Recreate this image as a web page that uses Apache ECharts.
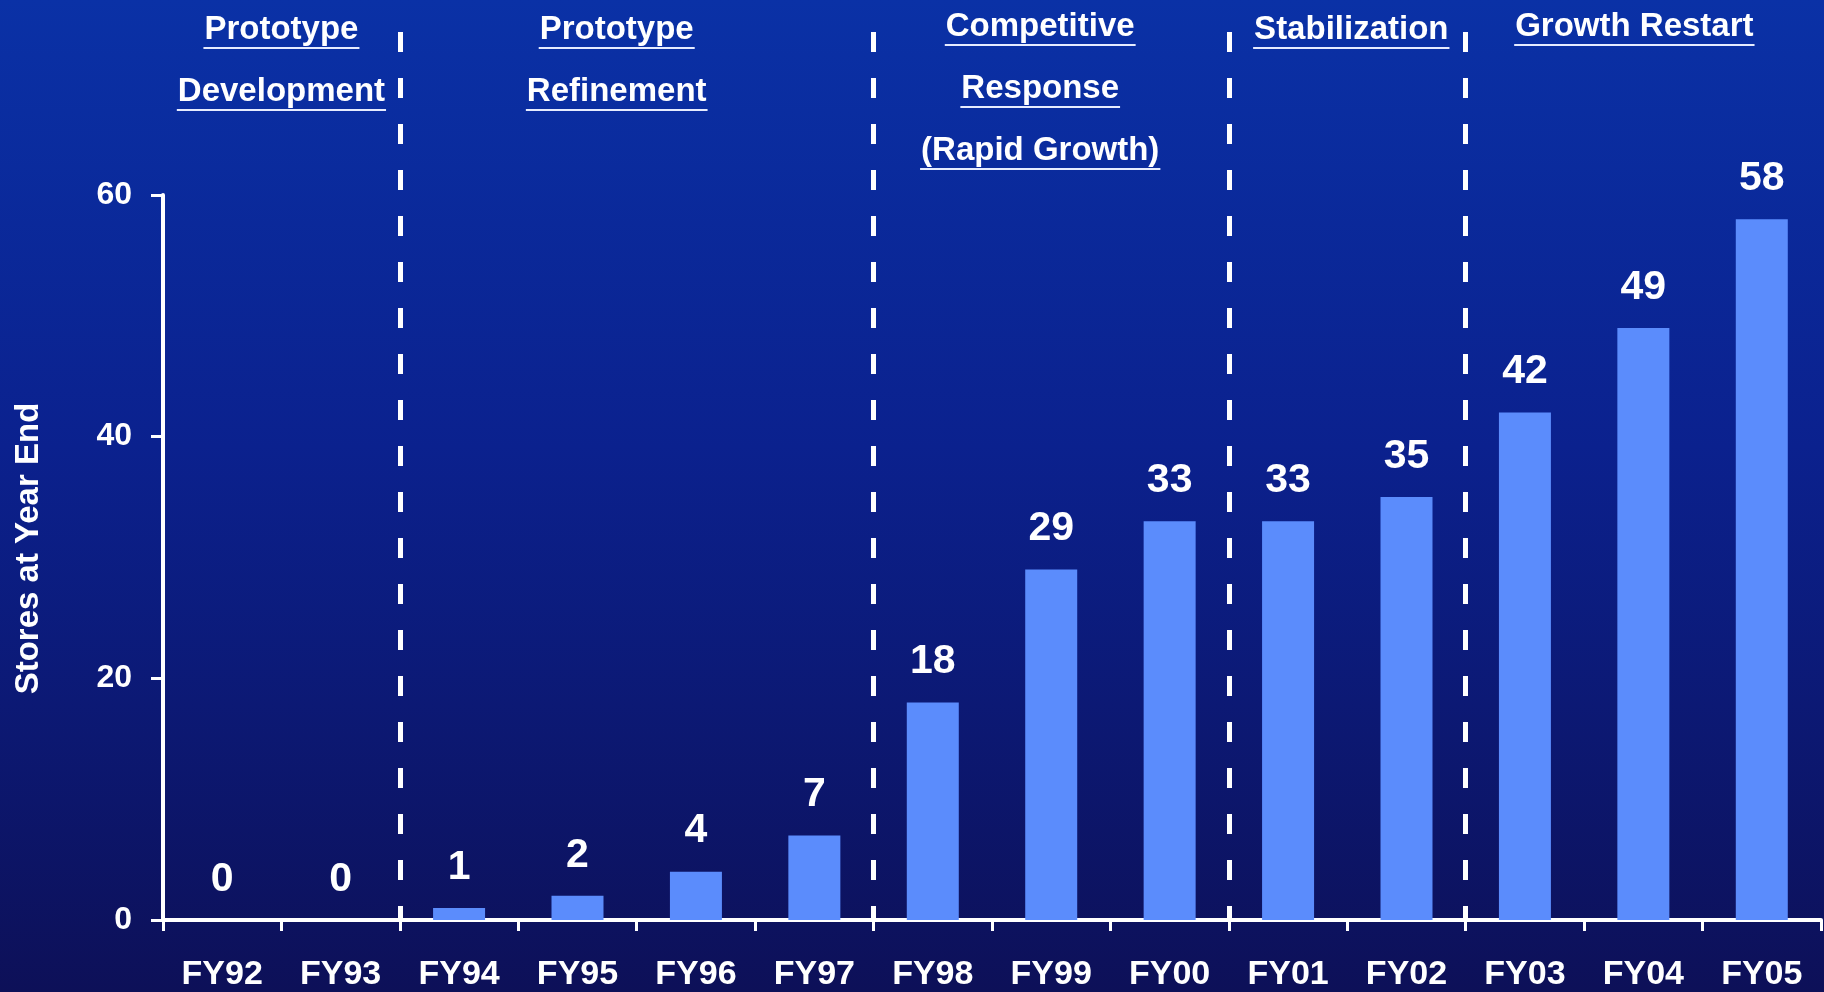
<!DOCTYPE html>
<html>
<head>
<meta charset="utf-8">
<script src="https://cdn.jsdelivr.net/npm/echarts@6/dist/echarts.min.js"></script>
<style>
  html, body { margin: 0; padding: 0; width: 1824px; height: 992px; overflow: hidden; background: #0b1f86; }
  #chart { width: 1824px; height: 992px; }
</style>
</head>
<body>
<div id="chart"></div>
<script>
// ---------------- data ----------------
const categories = ['FY92', 'FY93', 'FY94', 'FY95', 'FY96', 'FY97', 'FY98', 'FY99', 'FY00', 'FY01', 'FY02', 'FY03', 'FY04', 'FY05'];
const storesAtYearEnd = [0, 0, 1, 2, 4, 7, 18, 29, 33, 33, 35, 42, 49, 58];
const yAxisTicks = [0, 20, 40, 60];
const yAxisTitle = 'Stores at Year End';
const phaseTitles = [
  ['Prototype', 'Development'],
  ['Prototype', 'Refinement'],
  ['Competitive', 'Response', '(Rapid Growth)'],
  ['Stabilization'],
  ['Growth Restart']
];
const phaseFirstYear = ['FY92', 'FY94', 'FY98', 'FY01', 'FY03'];

// ---------------- layout / style ----------------
const FONT = '"Liberation Sans", Arial, sans-serif';
const GRID_LEFT = 163, GRID_RIGHT = 3, GRID_TOP = 195, GRID_BOTTOM = 70;
const DASH_TOP = 32;
const phaseNudgeX = [0, -20, -11, 4, -9];
const phaseNudgeY = [3, 3, 0, 3, 0];
const PHASE_FONT_SIZE = 33;
const PHASE_LINE0 = 27, PHASE_LINE_STEP = 62;

const phaseStartIdx = phaseFirstYear.map(y => categories.indexOf(y));
const phaseEndIdx = phaseStartIdx.slice(1).concat([categories.length]);

const chart = echarts.init(document.getElementById('chart'), null, { renderer: 'canvas' });

const option = {
  animation: false,
  backgroundColor: new echarts.graphic.LinearGradient(0, 0, 0, 1, [
    { offset: 0, color: '#0a31a6' },
    { offset: 0.45, color: '#0b218e' },
    { offset: 1, color: '#0d1058' }
  ]),
  grid: [
    { left: GRID_LEFT, right: GRID_RIGHT, top: GRID_TOP, bottom: GRID_BOTTOM },
    { left: GRID_LEFT, right: GRID_RIGHT, top: DASH_TOP, bottom: GRID_BOTTOM }
  ],
  xAxis: [
    {
      type: 'category', gridIndex: 0, data: categories, boundaryGap: true,
      axisLine: { lineStyle: { color: '#ffffff', width: 4 } },
      axisTick: { show: true, length: 11, lineStyle: { color: '#ffffff', width: 3 } },
      axisLabel: { color: '#ffffff', fontFamily: FONT, fontWeight: 'bold', fontSize: 34, margin: 38 }
    },
    {
      type: 'value', gridIndex: 1, min: 0, max: categories.length, show: false
    }
  ],
  yAxis: [
    {
      type: 'value', gridIndex: 0,
      min: yAxisTicks[0], max: yAxisTicks[yAxisTicks.length - 1], interval: yAxisTicks[1] - yAxisTicks[0],
      name: yAxisTitle, nameLocation: 'middle', nameRotate: 90, nameGap: 118,
      nameTextStyle: { color: '#ffffff', fontFamily: FONT, fontWeight: 'bold', fontSize: 33, padding: [0, 0, 0, 18] },
      axisLine: { show: true, lineStyle: { color: '#ffffff', width: 4 } },
      axisTick: { show: true, length: 12, lineStyle: { color: '#ffffff', width: 3 } },
      axisLabel: { color: '#ffffff', fontFamily: FONT, fontWeight: 'bold', fontSize: 32, margin: 31 },
      splitLine: { show: false }
    },
    { type: 'value', gridIndex: 1, min: 0, max: 1, show: false }
  ],
  series: [
    {
      type: 'bar', xAxisIndex: 0, yAxisIndex: 0,
      data: storesAtYearEnd,
      barWidth: 52,
      itemStyle: { color: '#5b8cfc' },
      label: {
        show: true, position: 'top', distance: 20,
        color: '#ffffff', fontFamily: FONT, fontWeight: 'bold', fontSize: 41
      },
      z: 3
    },
    {
      type: 'scatter', xAxisIndex: 1, yAxisIndex: 1,
      data: [], symbolSize: 0, silent: true,
      markLine: {
        silent: true, symbol: 'none', animation: false,
        label: { show: false },
        lineStyle: { color: '#ffffff', width: 5, type: [20, 26] },
        emphasis: { disabled: true },
        data: phaseStartIdx.slice(1).map(i => [{ coord: [i, 1] }, { coord: [i, 0] }])
      },
      z: 4
    }
  ]
};
chart.setOption(option);

// phase titles with underlines
const measureCtx = document.createElement('canvas').getContext('2d');
const phaseFont = 'bold ' + PHASE_FONT_SIZE + 'px ' + FONT;
measureCtx.font = phaseFont;
const graphics = [];
phaseTitles.forEach((lines, p) => {
  const mid = (phaseStartIdx[p] + phaseEndIdx[p]) / 2;
  const cx = chart.convertToPixel({ xAxisIndex: 1 }, mid) + phaseNudgeX[p];
  lines.forEach((t, j) => {
    const y = PHASE_LINE0 + phaseNudgeY[p] + j * PHASE_LINE_STEP;
    const w = measureCtx.measureText(t).width;
    graphics.push({
      type: 'text', silent: true,
      style: { text: t, x: cx, y: y, align: 'center', verticalAlign: 'middle', font: phaseFont, fill: '#ffffff' }
    });
    graphics.push({
      type: 'rect', silent: true,
      shape: { x: cx - w / 2 - 1, y: y + 17, width: w + 2, height: 2 },
      style: { fill: '#e6ecff' }
    });
  });
});
chart.setOption({ graphic: graphics });
</script>
</body>
</html>
